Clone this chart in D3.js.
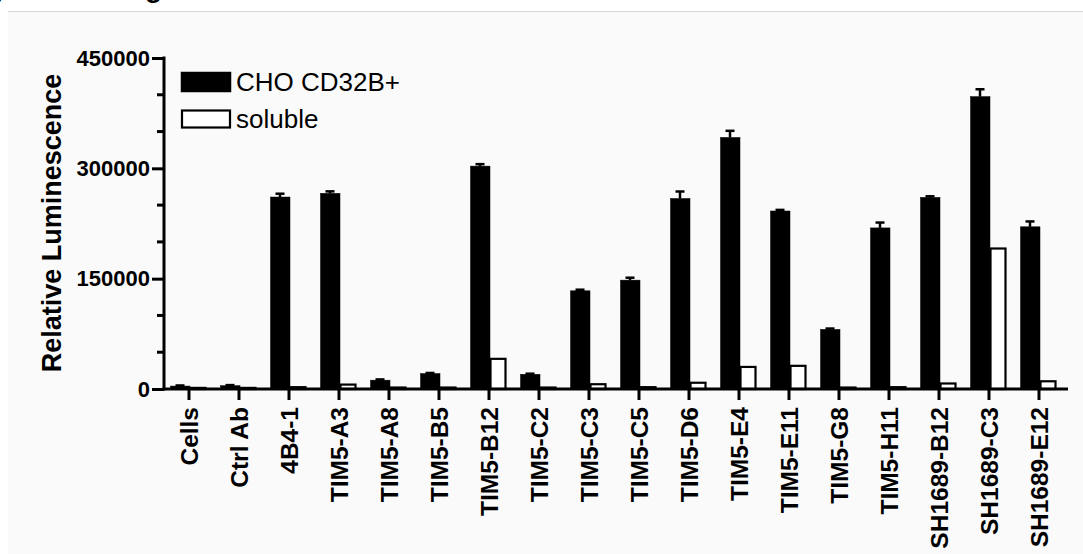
<!DOCTYPE html>
<html>
<head>
<meta charset="utf-8">
<script src="https://cdn.jsdelivr.net/npm/d3@7"></script>
<style>
html,body{margin:0;padding:0;background:#fff;}
svg{display:block;}
text{font-family:"Liberation Sans", Arial, sans-serif;}
</style>
</head>
<body>
<svg id="chart" width="1083" height="554"></svg>
<script>
const categories = ["Cells","Ctrl Ab","4B4-1","TIM5-A3","TIM5-A8","TIM5-B5","TIM5-B12","TIM5-C2","TIM5-C3","TIM5-C5","TIM5-D6","TIM5-E4","TIM5-E11","TIM5-G8","TIM5-H11","SH1689-B12","SH1689-C3","SH1689-E12"];
const seriesNames = ["CHO CD32B+","soluble"];
const choValues = [4000,4500,261000,266000,12000,21000,303000,20000,133500,148000,259000,342000,242000,81000,219000,260500,397500,220500];
const choErrors = [800,800,4500,2700,1000,800,2700,800,1500,3300,9500,9000,1500,1200,7300,1500,10000,7300];
const solubleValues = [1500,1500,2500,6000,2000,2000,41000,2000,6500,2500,8500,30000,31500,2000,2500,7500,191000,10500];
const yTickValues = [0,150000,300000,450000];
const yMinorTicks = [50000,100000,200000,250000,350000,400000];
const yTitle = "Relative Luminescence";

const svg = d3.select("#chart");
const W = 1083, H = 554;

// panel background
svg.append("rect").attr("x",0).attr("y",0).attr("width",W).attr("height",H).attr("fill","#fff");
svg.append("rect").attr("x",8).attr("y",11.5).attr("width",W-8).attr("height",H-11.5).attr("fill","#fafafa");
svg.append("line").attr("x1",8).attr("x2",W).attr("y1",11.5).attr("y2",11.5).attr("stroke","#d6d6d6").attr("stroke-width",1);
// cut-off panel heading remnants (as in the reference)
svg.append("text").attr("x",-4).attr("y",-4).attr("font-size",28).attr("font-weight","bold").text(")");
svg.append("text").attr("x",145).attr("y",-3).attr("font-size",28).attr("font-weight","bold").text("g");

const x0 = d3.scaleBand().domain(categories).range([164,1064]).padding(0);
const x1 = d3.scaleBand().domain(seriesNames).range([7,43]).padding(0);
const y = d3.scaleLinear().domain([0,450000]).range([389,58]);

const data = categories.map((c,i)=>({cat:c, vals:[
  {s:seriesNames[0], v:choValues[i], e:choErrors[i]},
  {s:seriesNames[1], v:solubleValues[i], e:0}
]}));

const g = svg.append("g");
const groups = g.selectAll("g.grp").data(data).join("g").attr("class","grp")
  .attr("transform",d=>`translate(${x0(d.cat)},0)`);

// error bars (upward only visible)
groups.selectAll("g.err").data(d=>d.vals.filter(v=>v.e>0)).join("g").attr("class","err").each(function(d){
  const cx = x1(d.s)+x1.bandwidth()/2;
  const sel = d3.select(this);
  sel.append("line").attr("x1",cx).attr("x2",cx).attr("y1",y(d.v)).attr("y2",y(d.v+d.e)).attr("stroke","#000").attr("stroke-width",2.5);
  sel.append("line").attr("x1",cx-4.5).attr("x2",cx+4.5).attr("y1",y(d.v+d.e)).attr("y2",y(d.v+d.e)).attr("stroke","#000").attr("stroke-width",2.5);
});

groups.selectAll("rect").data(d=>d.vals).join("rect")
  .attr("x",d=> d.s===seriesNames[0] ? x1(d.s)-0.5 : x1(d.s)+1.5)
  .attr("width",d=> d.s===seriesNames[0] ? x1.bandwidth()+1.5 : x1.bandwidth()-3)
  .attr("y",d=>y(d.v))
  .attr("height",d=>Math.max(0,y(0)-y(d.v)))
  .attr("fill",d=>d.s===seriesNames[0] ? "#000" : "#fff")
  .attr("stroke","#000")
  .attr("stroke-width",d=>d.s===seriesNames[0] ? 0.5 : 2.2);

// Y axis
const yAxis = d3.axisLeft(y).tickValues(yTickValues).tickSize(12).tickPadding(2).tickFormat(d3.format("d"));
const yg = svg.append("g").attr("transform","translate(164,0)").call(yAxis);
yg.select(".domain").remove();
yg.selectAll(".tick line").attr("stroke","#000").attr("stroke-width",3);
yg.selectAll(".tick text").attr("font-size",22).attr("font-weight","bold").attr("fill","#000")
  .attr("font-family",'"Liberation Sans", Arial, sans-serif');
yg.selectAll("line.minor").data(yMinorTicks).join("line").attr("class","minor")
  .attr("x1",-7).attr("x2",0).attr("y1",d=>y(d)).attr("y2",d=>y(d)).attr("stroke","#000").attr("stroke-width",3);
yg.append("line").attr("x1",0).attr("x2",0).attr("y1",y(450000)-1.5).attr("y2",y(0)+1.5).attr("stroke","#000").attr("stroke-width",3);

// X axis
const xAxis = d3.axisBottom(x0).tickSize(11).tickPadding(0);
const xg = svg.append("g").attr("transform","translate(0,389)").call(xAxis);
xg.select(".domain").remove();
xg.selectAll(".tick line").attr("stroke","#000").attr("stroke-width",3);
xg.selectAll(".tick text")
  .attr("font-size",24.5).attr("font-weight","bold").attr("fill","#000")
  .attr("font-family",'"Liberation Sans", Arial, sans-serif')
  .attr("text-anchor","end")
  .attr("transform","rotate(-90)")
  .attr("x",-18).attr("y",0).attr("dy","0.35em");
xg.append("line").attr("x1",162.5).attr("x2",1068).attr("y1",0).attr("y2",0).attr("stroke","#000").attr("stroke-width",3);

// Y title
svg.append("text").attr("transform","translate(61,223) rotate(-90)")
  .attr("text-anchor","middle").attr("font-size",27).attr("font-weight","bold").text(yTitle);

// Legend
const leg = svg.append("g");
const legendFill = ["#000","#fff"];
seriesNames.forEach((s,i)=>{
  const ly = i===0 ? 72 : 110.5;
  leg.append("rect").attr("x", i===0 ? 181 : 182).attr("y",ly).attr("width", i===0 ? 50 : 48).attr("height", i===0 ? 20 : 17)
    .attr("fill",legendFill[i]).attr("stroke","#000").attr("stroke-width", i===0 ? 0.5 : 2.2);
  leg.append("text").attr("x",236).attr("y", i===0 ? 91 : 128).attr("font-size",26).attr("fill","#000").text(s);
});
</script>
</body>
</html>
